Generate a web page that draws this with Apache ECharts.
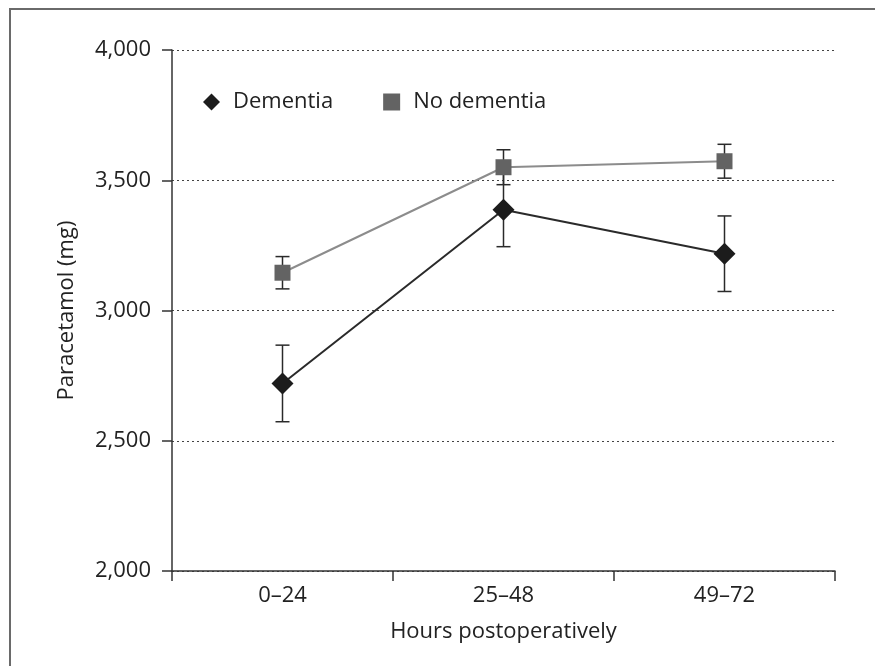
<!DOCTYPE html>
<html>
<head>
<meta charset="utf-8">
<script src="https://cdn.jsdelivr.net/npm/echarts@6/dist/echarts.min.js"></script>
<style>html,body{margin:0;padding:0;background:#fff}#c{width:875px;height:666px}</style>
</head>
<body>
<div id="c"></div>
<script>
var categories = ['0–24', '25–48', '49–72'];
var dementiaMean = [2720, 3387, 3218];
var dementiaErr = [147, 142, 145];
var noDementiaMean = [3145, 3550, 3573];
var noDementiaErr = [62, 67, 65];
var yTicks = [2000, 2500, 3000, 3500, 4000];

var FONT = '"Open Sans", "Noto Sans", sans-serif';
var chart = echarts.init(document.getElementById('c'));

function errData(mean, err) {
  return mean.map(function (m, i) { return [i, m - err[i], m + err[i]]; });
}
function errSeries(name, mean, err) {
  return {
    type: 'custom',
    name: name + ' err',
    z: 1,
    silent: true,
    renderItem: function (params, api) {
      var x = api.value(0);
      var lo = api.coord([x, api.value(1)]);
      var hi = api.coord([x, api.value(2)]);
      var hw = 7;
      var st = { stroke: '#2a2a2a', lineWidth: 1.5 };
      return {
        type: 'group',
        children: [
          { type: 'line', shape: { x1: lo[0], y1: lo[1], x2: hi[0], y2: hi[1] }, style: st },
          { type: 'line', shape: { x1: lo[0] - hw, y1: lo[1], x2: lo[0] + hw, y2: lo[1] }, style: st },
          { type: 'line', shape: { x1: hi[0] - hw, y1: hi[1], x2: hi[0] + hw, y2: hi[1] }, style: st }
        ]
      };
    },
    encode: { x: 0, y: [1, 2] },
    data: errData(mean, err)
  };
}

chart.setOption({
  animation: false,
  backgroundColor: '#fff',
  graphic: [{
    type: 'rect',
    shape: { x: 10, y: 9, width: 900, height: 700 },
    style: { fill: 'none', stroke: '#6a6a6a', lineWidth: 2 },
    z: 0
  }],
  grid: { left: 172, right: 40, top: 50, bottom: 95 },
  legend: {
    left: 198, top: 86,
    itemWidth: 17, itemHeight: 17, itemGap: 50,
    textStyle: { fontFamily: FONT, fontSize: 22, color: '#222', padding: [0, 0, 0, 8] },
    data: [{ name: 'Dementia', icon: 'diamond' }, { name: 'No dementia', icon: 'rect' }]
  },
  xAxis: {
    type: 'category',
    data: categories,
    boundaryGap: true,
    name: 'Hours postoperatively',
    nameLocation: 'middle',
    nameGap: 50,
    nameTextStyle: { fontFamily: FONT, fontSize: 22, color: '#222' },
    axisLine: { lineStyle: { color: '#333', width: 1.5 } },
    axisTick: { show: true, length: 10, lineStyle: { color: '#333', width: 1.5 } },
    axisLabel: { fontFamily: FONT, fontSize: 22, color: '#222', margin: 14 }
  },
  yAxis: {
    type: 'value',
    min: 2000, max: 4000, interval: 500,
    name: 'Paracetamol (mg)',
    nameLocation: 'middle',
    nameGap: 94,
    nameTextStyle: { fontFamily: FONT, fontSize: 22, color: '#222' },
    axisLine: { show: true, lineStyle: { color: '#333', width: 1.5 } },
    axisTick: { show: true, length: 10, lineStyle: { color: '#333', width: 1.5 } },
    axisLabel: {
      fontFamily: FONT, fontSize: 22, color: '#222', margin: 21,
      formatter: function (v) { return yTicks.indexOf(v) >= 0 ? v.toLocaleString('en-US') : ''; }
    },
    splitLine: { show: true, lineStyle: { color: '#444', type: [2, 3], width: 1 } }
  },
  series: [
    errSeries('Dementia', dementiaMean, dementiaErr),
    errSeries('No dementia', noDementiaMean, noDementiaErr),
    {
      name: 'No dementia', type: 'line', z: 3,
      data: noDementiaMean,
      symbol: 'rect', symbolSize: 16,
      itemStyle: { color: '#636363' },
      lineStyle: { color: '#8c8c8c', width: 2 }
    },
    {
      name: 'Dementia', type: 'line', z: 4,
      data: dementiaMean,
      symbol: 'diamond', symbolSize: [22, 22],
      itemStyle: { color: '#1c1c1c' },
      lineStyle: { color: '#2a2a2a', width: 2 }
    }
  ]
});
</script>
</body>
</html>
